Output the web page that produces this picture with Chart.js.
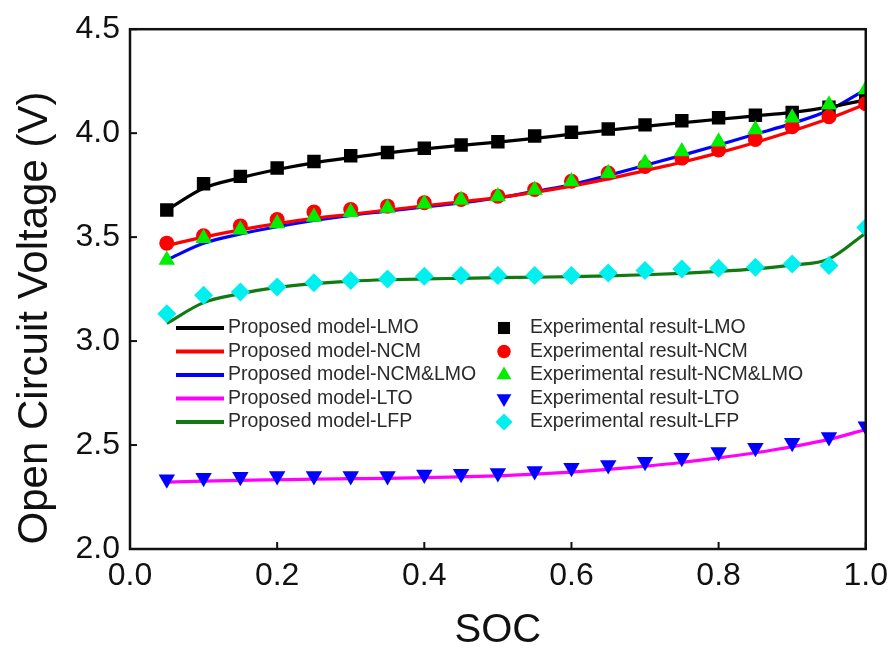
<!DOCTYPE html>
<html>
<head>
<meta charset="utf-8">
<script src="https://cdn.jsdelivr.net/npm/chart.js@4.4.0/dist/chart.umd.min.js"></script>
<style>
  html, body { margin: 0; padding: 0; background: #fff; }
  #wrap { width: 896px; height: 655px; }
</style>
</head>
<body>
<div id="wrap"><canvas id="ocvChart" width="896" height="655"></canvas></div>
<script>
const SOC = [0.05, 0.10, 0.15, 0.20, 0.25, 0.30, 0.35, 0.40, 0.45, 0.50,
             0.55, 0.60, 0.65, 0.70, 0.75, 0.80, 0.85, 0.90, 0.95, 1.00];

// model curves
const MODEL_LMO = [3.63, 3.735, 3.785, 3.825, 3.857, 3.882, 3.905, 3.924, 3.941, 3.957,
                   3.975, 3.995, 4.014, 4.033, 4.05, 4.067, 4.083, 4.1, 4.125, 4.16];
const MODEL_NCM = [3.46, 3.5, 3.535, 3.565, 3.59, 3.61, 3.63, 3.65, 3.67, 3.69,
                   3.715, 3.745, 3.78, 3.82, 3.86, 3.905, 3.955, 4.01, 4.07, 4.14];
const MODEL_NCM_LMO = [3.39, 3.47, 3.515, 3.55, 3.58, 3.605, 3.625, 3.645, 3.665, 3.688,
                       3.72, 3.752, 3.797, 3.845, 3.893, 3.943, 3.995, 4.047, 4.11, 4.21];
const MODEL_LTO = [2.322, 2.326, 2.33, 2.333, 2.336, 2.338, 2.34, 2.343, 2.347, 2.352,
                   2.36, 2.37, 2.383, 2.398, 2.416, 2.438, 2.463, 2.492, 2.527, 2.575];
const MODEL_LFP = [3.085, 3.185, 3.228, 3.258, 3.276, 3.288, 3.295, 3.299, 3.302, 3.305,
                   3.307, 3.31, 3.314, 3.319, 3.326, 3.335, 3.347, 3.365, 3.395, 3.52];

// measured points
const EXP_LMO = [3.63, 3.757, 3.792, 3.832, 3.864, 3.891, 3.907, 3.927, 3.943, 3.959,
                 3.986, 4.004, 4.02, 4.04, 4.06, 4.074, 4.086, 4.1, 4.125, 4.17];
const EXP_NCM = [3.471, 3.506, 3.554, 3.585, 3.621, 3.633, 3.649, 3.665, 3.681, 3.697,
                 3.729, 3.769, 3.808, 3.84, 3.88, 3.919, 3.97, 4.031, 4.079, 4.142];
const EXP_NCM_LMO = [3.39, 3.495, 3.536, 3.565, 3.597, 3.62, 3.64, 3.66, 3.679, 3.695,
                     3.727, 3.768, 3.807, 3.857, 3.912, 3.959, 4.018, 4.074, 4.137, 4.21];
const EXP_LTO = [2.335, 2.343, 2.348, 2.351, 2.351, 2.351, 2.351, 2.358, 2.362, 2.366,
                 2.375, 2.391, 2.404, 2.42, 2.439, 2.466, 2.487, 2.511, 2.539, 2.59];
const EXP_LFP = [3.132, 3.22, 3.236, 3.26, 3.28, 3.291, 3.299, 3.312, 3.315, 3.315,
                 3.315, 3.315, 3.328, 3.339, 3.347, 3.35, 3.355, 3.371, 3.363, 3.546];

const X_TICKS = [0.0, 0.2, 0.4, 0.6, 0.8, 1.0];
const Y_TICKS = [2.0, 2.5, 3.0, 3.5, 4.0, 4.5];

const FONT = '"Liberation Sans", Arial, Helvetica, sans-serif';

function pts(ys) {
    return SOC.map((x, i) => ({ x: x, y: ys[i] }));
}

function lineSet(label, ys, color, order) {
    return {
        label: label,
        data: pts(ys),
        showLine: true,
        borderColor: color,
        backgroundColor: color,
        borderWidth: 3.2,
        pointRadius: 0,
        cubicInterpolationMode: 'monotone',
        clip: 0,
        order: order,
        kind: 'line'
    };
}

function markerSet(label, ys, color, style, radius, rotation, order) {
    return {
        label: label,
        data: pts(ys),
        showLine: false,
        borderColor: color,
        backgroundColor: color,
        borderWidth: 0,
        pointStyle: style,
        pointRadius: radius,
        pointRotation: rotation,
        clip: 0,
        order: order,
        kind: 'marker'
    };
}

const datasets = [
    lineSet('Proposed model-LMO', MODEL_LMO, '#000000', 5),
    lineSet('Proposed model-NCM', MODEL_NCM, '#ff0000', 6),
    lineSet('Proposed model-NCM&LMO', MODEL_NCM_LMO, '#0000ff', 7),
    lineSet('Proposed model-LTO', MODEL_LTO, '#ff00ff', 8),
    lineSet('Proposed model-LFP', MODEL_LFP, '#117a11', 9),
    markerSet('Experimental result-LMO', EXP_LMO, '#000000', 'rect', 9.5, 0, 2),
    markerSet('Experimental result-NCM', EXP_NCM, '#ff0000', 'circle', 7.5, 0, 1),
    markerSet('Experimental result-NCM&LMO', EXP_NCM_LMO, '#00ee00', 'triangle', 9.5, 0, 0),
    markerSet('Experimental result-LTO', EXP_LTO, '#0000ff', 'triangle', 9.5, 180, 0),
    markerSet('Experimental result-LFP', EXP_LFP, '#00f0f0', 'rectRot', 9.5, 0, 0)
];

// box, inward ticks, axis titles and the two-column legend
const framePlugin = {
    id: 'frame',
    afterDraw(chart) {
        const ctx = chart.ctx;
        const a = chart.chartArea;
        const xs = chart.scales.x, ys = chart.scales.y;
        ctx.save();
        ctx.strokeStyle = '#111';
        ctx.lineWidth = 2.5;
        ctx.strokeRect(a.left, a.top, a.right - a.left, a.bottom - a.top);
        ctx.lineWidth = 2;
        X_TICKS.forEach(v => {
            const px = xs.getPixelForValue(v);
            ctx.beginPath();
            ctx.moveTo(px, a.bottom);
            ctx.lineTo(px, a.bottom - 7);
            ctx.stroke();
        });
        Y_TICKS.forEach(v => {
            const py = ys.getPixelForValue(v);
            ctx.beginPath();
            ctx.moveTo(a.left, py);
            ctx.lineTo(a.left + 7, py);
            ctx.stroke();
        });

        ctx.fillStyle = '#111';
        ctx.textAlign = 'center';
        ctx.textBaseline = 'middle';
        ctx.font = '40px ' + FONT;
        ctx.fillText('SOC', (a.left + a.right) / 2, 631);
        ctx.save();
        ctx.translate(35, 318);
        ctx.rotate(-Math.PI / 2);
        ctx.font = '42px ' + FONT;
        ctx.fillText('Open Circuit Voltage (V)', 0, 0);
        ctx.restore();

        // legend
        ctx.font = '19.5px ' + FONT;
        ctx.textAlign = 'left';
        const rowY = i => 328 + 23.5 * i;
        const lines = chart.data.datasets.filter(d => d.kind === 'line');
        const marks = chart.data.datasets.filter(d => d.kind === 'marker');
        lines.forEach((d, i) => {
            const y = rowY(i);
            ctx.strokeStyle = d.borderColor;
            ctx.lineWidth = 4;
            ctx.beginPath();
            ctx.moveTo(176, y);
            ctx.lineTo(224, y);
            ctx.stroke();
            ctx.fillStyle = '#2a2a2a';
            ctx.fillText(d.label, 228, y);
        });
        marks.forEach((d, i) => {
            const y = rowY(i);
            ctx.fillStyle = d.backgroundColor;
            ctx.strokeStyle = d.borderColor;
            Chart.helpers.drawPoint(ctx, {
                pointStyle: d.pointStyle,
                radius: d.pointRadius * 0.9,
                rotation: d.pointRotation,
                borderWidth: 0
            }, 504, y);
            ctx.fillStyle = '#2a2a2a';
            ctx.fillText(d.label, 530, y);
        });
        ctx.restore();
    }
};

new Chart(document.getElementById('ocvChart'), {
    type: 'scatter',
    data: { datasets: datasets },
    options: {
        responsive: false,
        animation: false,
        events: [],
        layout: { padding: { left: 0, top: 25, right: 29, bottom: 0 } },
        plugins: { legend: { display: false }, tooltip: { enabled: false } },
        scales: {
            x: {
                type: 'linear',
                min: 0, max: 1,
                afterFit: s => { s.height = 106; },
                afterBuildTicks: s => { s.ticks = X_TICKS.map(v => ({ value: v })); },
                grid: { display: false, drawTicks: false },
                border: { display: false },
                ticks: {
                    padding: 8,
                    color: '#111',
                    font: { family: FONT, size: 32 },
                    maxRotation: 0,
                    callback: v => v.toFixed(1)
                }
            },
            y: {
                type: 'linear',
                min: 2, max: 4.5,
                afterFit: s => { s.width = 130; },
                afterBuildTicks: s => { s.ticks = Y_TICKS.map(v => ({ value: v })); },
                grid: { display: false, drawTicks: false },
                border: { display: false },
                ticks: {
                    padding: 10,
                    color: '#111',
                    font: { family: FONT, size: 32 },
                    callback: v => v.toFixed(1)
                }
            }
        }
    },
    plugins: [framePlugin]
});
</script>
</body>
</html>
